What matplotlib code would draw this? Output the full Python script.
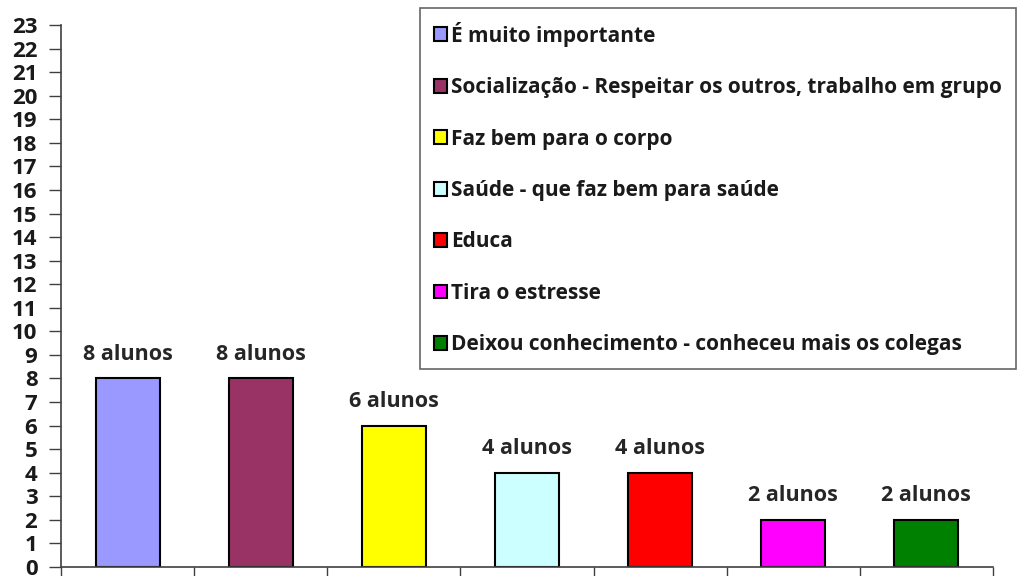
import matplotlib.pyplot as plt
from matplotlib.patches import Patch
import numpy as np

categorias = [
    "É muito importante",
    "Socialização - Respeitar os outros, trabalho em grupo",
    "Faz bem para o corpo",
    "Saúde - que faz bem para saúde",
    "Educa",
    "Tira o estresse",
    "Deixou conhecimento - conheceu mais os colegas",
]
alunos = [8, 8, 6, 4, 4, 2, 2]
cores = ["#9999FF", "#993366", "#FFFF00", "#CCFFFF", "#FF0000", "#FF00FF", "#008000"]
rotulos = [f"{v} alunos" for v in alunos]

plt.rcParams["font.family"] = ["Open Sans", "DejaVu Sans"]
plt.rcParams["font.weight"] = "bold"
plt.rcParams["text.color"] = "#1a1a1a"

fig = plt.figure(figsize=(10.2, 5.76), dpi=100)
ax = fig.add_axes([61 / 1020, 9 / 576, 932 / 1020, 542 / 576])

x = np.arange(len(alunos))
bars = ax.bar(x, alunos, width=0.48, color=cores, edgecolor="black", linewidth=1.5)
ax.bar_label(bars, labels=rotulos, padding=10, fontsize=15.5, fontweight="bold",
             color="#262626")

ax.set_xlim(-0.5, len(alunos) - 0.5)
ax.set_ylim(0, 23)
ax.set_yticks(range(0, 24))
ax.set_xticks(np.arange(-0.5, len(alunos) + 0.5, 1))
ax.set_xticklabels([])
ax.tick_params(axis="y", length=9, width=1, color="#404040", labelsize=16,
               labelcolor="#1a1a1a", pad=8)
ax.tick_params(axis="x", length=9, width=1, color="#404040", direction="out")
for lbl in ax.get_yticklabels():
    lbl.set_fontweight("bold")
for s in ["top", "right"]:
    ax.spines[s].set_visible(False)
for s in ["left", "bottom"]:
    ax.spines[s].set_color("#404040")
    ax.spines[s].set_linewidth(1.2)

handles = [Patch(facecolor=c, edgecolor="black", linewidth=1.5) for c in cores]
leg = fig.legend(handles, categorias, loc="upper left",
                 bbox_to_anchor=(420 / 1020, 1 - 8 / 576), bbox_transform=fig.transFigure,
                 prop={"weight": "bold", "size": 15},
                 frameon=True, fancybox=False, edgecolor="#404040",
                 handlelength=0.65, handleheight=0.65, handletextpad=0.2,
                 labelspacing=1.46, borderpad=0.66, borderaxespad=0)
leg.get_frame().set_linewidth(1.2)
for t in leg.get_texts():
    t.set_color("#1a1a1a")

fig.savefig("out.png", dpi=100)
